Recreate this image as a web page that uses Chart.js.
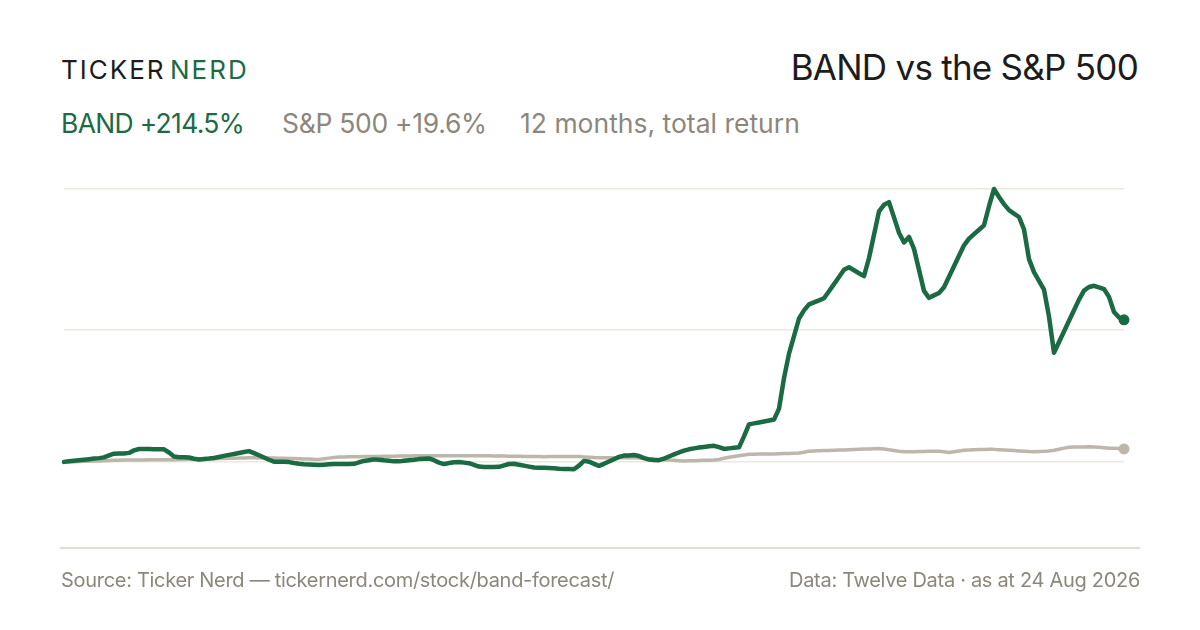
<!DOCTYPE html>
<html>
<head>
<meta charset="utf-8">
<script src="https://cdn.jsdelivr.net/npm/chart.js@4"></script>
<style>
  html, body { margin: 0; padding: 0; background: #ffffff; }
  body { width: 1200px; height: 630px; position: relative; overflow: hidden; font-family: Inter, "Noto Sans", sans-serif; }
  .abs { position: absolute; white-space: nowrap; line-height: 1; }
  .brand { top: 57px; font-size: 26px; letter-spacing: 2px; color: #1c1c1c; font-weight: 400; }
  #title { right: 62px; top: 50px; font-size: 35px; color: #1c1c1c; font-weight: 400; letter-spacing: -0.75px; }
  .sub { top: 110px; font-size: 26.5px; color: #8c877c; }
  .foot { top: 570px; font-size: 20px; color: #8c877c; letter-spacing: -0.3px; }
  .abs.g { color: #1d6a44; }
  #axisline { position: absolute; left: 60px; top: 547px; width: 1080px; height: 2px; background: #e2ddd3; }
  #wrap { position: absolute; left: 0; top: 150px; width: 1200px; height: 420px; }
</style>
</head>
<body>
<div class="abs brand" style="left:61px">TICKER</div>
<div class="abs brand g" style="left:170px">NERD</div>
<div id="title" class="abs">BAND vs the S&amp;P 500</div>
<div class="abs sub g" style="left:61px; letter-spacing:-0.7px">BAND +214.5%</div>
<div class="abs sub" style="left:282px; letter-spacing:-0.3px">S&amp;P 500 +19.6%</div>
<div class="abs sub" style="left:520px; letter-spacing:0px">12 months, total return</div>
<div id="axisline"></div>
<div id="wrap"><canvas id="c" width="1200" height="420"></canvas></div>
<div class="abs foot" style="left:61px">Source: Ticker Nerd — tickernerd.com/stock/band-forecast/</div>
<div class="abs foot" style="right:60px">Data: Twelve Data · as at 24 Aug 2026</div>
<script>
// Total return, % since start of the 12-month window
const bandReturns = [
0,1.1,1.8,2.6,3.3,4.1,5.0,5.7,6.8,9.8,
12.4,12.7,12.8,13.6,17.4,19.5,19.3,19.3,19.2,19.2,
19.0,14.2,8.2,6.9,6.9,6.6,4.7,3.6,4.4,5.0,
6.0,7.5,9.1,10.6,11.9,13.4,14.9,16.3,13.3,10.0,
6.6,3.2,0.3,0.3,0.3,-0.3,-1.7,-2.9,-3.5,-3.9,
-4.2,-4.7,-4.2,-3.6,-3.2,-3.2,-3.2,-3.2,-2.9,-0.6,
1.5,2.6,3.8,3.3,2.4,1.7,0.8,0.8,1.7,2.6,
3.3,4.2,4.8,5.3,2.6,-1.1,-3.3,-1.8,-0.5,-0.2,
-1.1,-2.0,-4.4,-7.1,-7.7,-7.7,-7.7,-7.4,-5.3,-3.2,
-2.7,-4.2,-5.6,-7.1,-8.5,-8.8,-8.8,-9.1,-9.7,-10.3,
-10.7,-10.9,-11.2,-5.6,1.5,0.3,-2.9,-6.0,-2.9,0.6,
4.1,7.5,9.5,9.8,10.3,8.9,5.7,3.6,3.0,2.6,
5.0,8.2,11.3,14.2,16.9,19.0,20.4,21.7,22.6,23.6,
24.3,22.2,19.6,20.4,21.3,22.0,38.6,56.6,58.1,59.5,
61.0,62.4,63.9,80.5,126.4,163.5,189.9,216.5,228.7,237.8,
240.8,243.8,247.0,257.7,268.4,279.1,290.0,293.8,289.3,284.9,
280.5,307.8,343.0,378.2,388.1,392.2,369.1,346.0,331.2,339.7,
321.6,289.9,258.2,247.7,251.4,255.0,263.6,279.4,295.3,311.2,
327.0,337.0,343.8,350.4,357.2,386.0,412.0,399.9,389.2,380.0,
374.9,369.7,351.0,306.2,286.5,273.3,260.0,219.4,164.9,180.9,
196.9,213.0,229.0,245.0,258.5,264.0,265.9,263.4,260.9,249.1,
226.3,218.2,214.5
];
const spxReturns = [
0,0.2,0.4,0.6,0.9,1.1,1.2,1.5,1.7,2.0,
2.3,2.4,2.7,2.9,2.9,3.0,3.0,3.2,3.2,3.2,
3.3,3.3,3.3,3.5,3.8,3.9,4.1,4.2,4.5,4.7,
4.8,5.0,5.3,5.4,5.6,5.7,6.0,6.2,6.2,6.0,
6.0,5.9,5.9,5.6,5.4,5.3,5.1,4.8,4.5,4.2,
3.9,3.8,4.7,5.7,6.6,7.4,7.5,7.7,7.7,7.9,
8.0,8.0,8.2,8.3,8.5,8.5,8.6,8.8,8.8,8.9,
9.1,9.2,9.2,9.3,9.2,9.3,9.3,9.2,9.4,9.3,
9.3,9.4,9.4,9.4,9.2,9.1,8.9,8.9,8.8,8.6,
8.5,8.5,8.3,8.2,8.0,8.0,7.9,8.0,8.0,8.2,
8.3,8.3,8.3,8.0,7.5,7.1,6.6,6.3,6.3,6.3,
6.3,6.3,6.3,6.3,6.3,5.9,5.3,4.8,4.4,3.8,
3.3,2.7,2.3,1.8,1.4,1.7,1.8,2.1,2.3,2.6,
2.7,3.6,5.4,7.1,8.2,9.2,10.3,11.5,11.6,11.8,
11.8,11.9,12.1,12.4,12.7,12.8,13.1,13.4,14.6,16.2,
16.6,16.8,17.1,17.2,17.5,17.8,18.1,18.4,18.7,19.0,
19.3,19.6,19.9,20.2,19.3,18.3,17.2,16.0,15.4,15.5,
15.5,15.7,15.7,15.9,15.9,16.0,15.2,14.3,15.2,16.5,
17.7,18.1,18.3,18.6,18.7,18.9,18.9,18.4,18.0,17.5,
17.1,16.6,16.2,15.7,15.4,15.7,16.0,16.5,17.7,19.2,
20.8,22.0,22.3,22.5,22.6,22.8,22.6,22.0,21.3,20.7,
20.5,20.2,19.6
];
const periodLabels = bandReturns.map((_, i) => 'P' + (i + 1));
const gridValues = [0, 200, 412];
const axisMin = -130;
const axisMax = 412;

const GREEN = '#1a6a43';
const GREY = '#bdb6ab';
const lastIdx = bandReturns.length - 1;

new Chart(document.getElementById('c'), {
  type: 'line',
  data: {
    labels: periodLabels,
    datasets: [
      {
        label: 'BAND',
        data: bandReturns,
        borderColor: GREEN,
        backgroundColor: GREEN,
        borderWidth: 4.5,
        tension: 0,
        borderJoinStyle: 'round',
        borderCapStyle: 'round',
        pointRadius: ctx => ctx.dataIndex === lastIdx ? 5.5 : 0,
        pointBackgroundColor: GREEN,
        pointBorderWidth: 0,
        pointHoverRadius: 0,
        clip: false
      },
      {
        label: 'S&P 500',
        data: spxReturns,
        borderColor: GREY,
        backgroundColor: GREY,
        borderWidth: 3.5,
        tension: 0,
        borderJoinStyle: 'round',
        borderCapStyle: 'round',
        pointRadius: ctx => ctx.dataIndex === lastIdx ? 5.5 : 0,
        pointBackgroundColor: GREY,
        pointBorderWidth: 0,
        pointHoverRadius: 0,
        clip: false
      }
    ]
  },
  options: {
    responsive: false,
    animation: false,
    events: [],
    layout: { padding: { left: 64, right: 76, top: 39, bottom: 22 } },
    plugins: { legend: { display: false }, tooltip: { enabled: false } },
    scales: {
      x: { display: false, offset: false },
      y: {
        min: axisMin,
        max: axisMax,
        afterBuildTicks: s => { s.ticks = gridValues.map(v => ({ value: v })); },
        ticks: { display: false },
        border: { display: false },
        grid: { color: '#ece8e1', lineWidth: 1.5, drawTicks: false, tickLength: 0 }
      }
    }
  }
});
</script>
</body>
</html>
